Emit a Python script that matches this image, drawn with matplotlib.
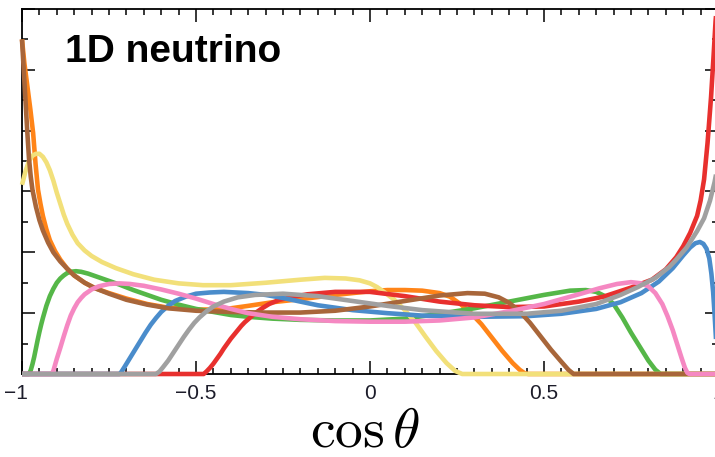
import matplotlib
matplotlib.use("Agg")
import matplotlib.pyplot as plt
from matplotlib.ticker import MultipleLocator, FixedLocator, FixedFormatter
import matplotlib.transforms as mtransforms

# ---------------- data ----------------
orange_x = [-1.0, -0.993, -0.985, -0.976, -0.968, -0.961, -0.954, -0.947, -0.94, -0.93, -0.92, -0.905,
            -0.89, -0.87, -0.85, -0.82, -0.79, -0.75, -0.70, -0.64, -0.58, -0.5, -0.45, -0.4, -0.35,
            -0.28, -0.2, -0.1, 0.0, 0.05, 0.1, 0.15, 0.2, 0.23, 0.26, 0.29, 0.32, 0.35, 0.38, 0.41,
            0.43, 0.445, 0.455, 1.0]
orange_y = [5.5, 5.1, 4.75, 4.35, 3.96, 3.45, 3.03, 2.8, 2.6, 2.38, 2.2, 2.02,
            1.88, 1.73, 1.62, 1.5, 1.41, 1.33, 1.24, 1.15, 1.09, 1.06, 1.06, 1.08, 1.12,
            1.18, 1.23, 1.30, 1.36, 1.38, 1.38, 1.37, 1.33, 1.27, 1.15, 1.0, 0.82, 0.6, 0.38, 0.18,
            0.07, 0.01, 0.0, 0.0]

green_x = [-1.0, -0.98, -0.975, -0.97, -0.965, -0.96, -0.955, -0.95, -0.945, -0.94, -0.93, -0.92,
           -0.91, -0.90, -0.89, -0.88, -0.87, -0.86, -0.845, -0.83, -0.81, -0.79, -0.76, -0.72,
           -0.68, -0.64, -0.6, -0.55, -0.5, -0.45, -0.4, -0.35, -0.28, -0.2, -0.1, 0.0, 0.1, 0.2,
           0.3, 0.4, 0.5, 0.575, 0.62, 0.65, 0.675, 0.70, 0.725, 0.75, 0.775, 0.80, 0.82, 0.835, 1.0]
green_y = [0.0, 0.0, 0.06, 0.16, 0.28, 0.42, 0.56, 0.69, 0.81, 0.92, 1.12, 1.28,
           1.40, 1.50, 1.57, 1.62, 1.66, 1.68, 1.69, 1.68, 1.65, 1.61, 1.55, 1.47,
           1.38, 1.30, 1.22, 1.14, 1.07, 1.02, 0.97, 0.94, 0.91, 0.89, 0.88, 0.88, 0.91, 0.99,
           1.08, 1.19, 1.30, 1.37, 1.38, 1.35, 1.28, 1.15, 0.93, 0.68, 0.45, 0.22, 0.07, 0.0, 0.0]

yellow_x = [-1.0, -0.99, -0.98, -0.97, -0.96, -0.95, -0.94, -0.93, -0.92, -0.91, -0.90, -0.89,
            -0.88, -0.87, -0.855, -0.84, -0.82, -0.80, -0.77, -0.73, -0.68, -0.62, -0.55, -0.48,
            -0.4, -0.3, -0.2, -0.13, -0.07, -0.03, 0.0, 0.02, 0.04, 0.07, 0.10, 0.13, 0.16, 0.19,
            0.22, 0.245, 0.265, 1.0]
yellow_y = [3.11, 3.33, 3.5, 3.59, 3.62, 3.62, 3.57, 3.48, 3.35, 3.18, 2.98, 2.80,
            2.62, 2.47, 2.29, 2.15, 2.03, 1.94, 1.84, 1.74, 1.64, 1.55, 1.49, 1.46,
            1.46, 1.50, 1.55, 1.58, 1.57, 1.54, 1.49, 1.43, 1.35, 1.22, 1.05, 0.85, 0.61, 0.38,
            0.18, 0.05, 0.0, 0.0]

red_x = [-1.0, -0.478, -0.47, -0.46, -0.45, -0.44, -0.43, -0.42, -0.41, -0.40, -0.39, -0.38,
         -0.37, -0.36, -0.35, -0.34, -0.33, -0.31, -0.29, -0.26, -0.22, -0.18, -0.1, 0.0, 0.1,
         0.2, 0.3, 0.4, 0.5, 0.6, 0.67, 0.75, 0.81, 0.85, 0.88, 0.90, 0.92, 0.94, 0.95, 0.96,
         0.97, 0.98, 0.987, 0.993, 0.996]
red_y = [0.0, 0.0, 0.04, 0.10, 0.17, 0.25, 0.33, 0.42, 0.50, 0.58, 0.65, 0.72,
         0.79, 0.85, 0.90, 0.95, 1.0, 1.08, 1.15, 1.22, 1.27, 1.31, 1.35, 1.35, 1.28,
         1.19, 1.13, 1.10, 1.11, 1.19, 1.27, 1.42, 1.55, 1.72, 1.92, 2.10, 2.32, 2.60, 2.85, 3.2,
         3.8, 4.55, 5.2, 5.8, 6.0]

blue_x = [-1.0, -0.72, -0.715, -0.705, -0.69, -0.675, -0.66, -0.645, -0.63, -0.615, -0.60, -0.58,
          -0.56, -0.53, -0.50, -0.46, -0.42, -0.35, -0.3, -0.25, -0.15, -0.05, 0.05, 0.15, 0.3,
          0.45, 0.55, 0.65, 0.72, 0.78, 0.83, 0.87, 0.90, 0.92, 0.935, 0.948, 0.958, 0.967,
          0.975, 0.981, 0.986, 0.99, 0.994, 0.997, 1.0]
blue_y = [0.0, 0.0, 0.03, 0.12, 0.26, 0.40, 0.54, 0.68, 0.81, 0.92, 1.02, 1.12,
          1.20, 1.27, 1.32, 1.34, 1.35, 1.33, 1.30, 1.25, 1.13, 1.05, 1.0, 0.96, 0.94,
          0.95, 0.99, 1.07, 1.18, 1.33, 1.52, 1.74, 1.95, 2.08, 2.15, 2.17, 2.14, 2.06,
          1.90, 1.65, 1.35, 1.0, 0.6, 0.3, 0.0]

brown_x = [-1.0, -0.995, -0.99, -0.985, -0.98, -0.975, -0.97, -0.96, -0.95, -0.94, -0.925, -0.91,
           -0.89, -0.87, -0.85, -0.82, -0.79, -0.75, -0.7, -0.64, -0.58, -0.5, -0.4, -0.3, -0.2,
           -0.1, 0.0, 0.1, 0.2, 0.28, 0.33, 0.37, 0.40, 0.43, 0.46, 0.49, 0.52, 0.55, 0.57, 0.585,
           1.0]
brown_y = [5.5, 5.0, 4.5, 4.0, 3.55, 3.25, 3.03, 2.75, 2.53, 2.36, 2.16, 2.0,
           1.85, 1.73, 1.62, 1.5, 1.41, 1.32, 1.22, 1.14, 1.08, 1.04, 1.02, 1.01, 1.01,
           1.04, 1.11, 1.20, 1.29, 1.33, 1.32, 1.26, 1.17, 1.03, 0.84, 0.62, 0.40, 0.20, 0.07, 0.0,
           0.0]

pink_x = [-1.0, -0.915, -0.91, -0.905, -0.9, -0.89, -0.88, -0.87, -0.86, -0.85, -0.84, -0.83,
          -0.82, -0.80, -0.78, -0.75, -0.72, -0.69, -0.65, -0.6, -0.55, -0.5, -0.45, -0.4, -0.35,
          -0.28, -0.2, -0.1, 0.0, 0.1, 0.2, 0.3, 0.4, 0.5, 0.6, 0.66, 0.71, 0.75, 0.78, 0.80,
          0.82, 0.84, 0.855, 0.87, 0.885, 0.895, 0.905, 0.912, 0.918, 1.0]
pink_y = [0.0, 0.0, 0.05, 0.15, 0.25, 0.43, 0.62, 0.80, 0.96, 1.08, 1.18, 1.25,
          1.31, 1.39, 1.44, 1.48, 1.49, 1.48, 1.45, 1.39, 1.32, 1.24, 1.15, 1.07, 1.0,
          0.94, 0.90, 0.87, 0.86, 0.86, 0.88, 0.93, 1.03, 1.15, 1.31, 1.41, 1.48, 1.51, 1.49, 1.44,
          1.33, 1.15, 0.95, 0.72, 0.45, 0.27, 0.10, 0.02, 0.0, 0.0]

gray_x = [-1.0, -0.615, -0.605, -0.595, -0.58, -0.565, -0.55, -0.535, -0.52, -0.505, -0.49, -0.47,
          -0.45, -0.42, -0.38, -0.33, -0.25, -0.15, -0.05, 0.05, 0.15, 0.3, 0.45, 0.55, 0.65,
          0.72, 0.77, 0.82, 0.86, 0.88, 0.91, 0.94, 0.96, 0.977, 0.99, 1.0]
gray_y = [0.0, 0.0, 0.04, 0.11, 0.22, 0.35, 0.48, 0.61, 0.73, 0.84, 0.93, 1.03,
          1.11, 1.19, 1.26, 1.30, 1.32, 1.28, 1.20, 1.12, 1.05, 0.99, 0.99, 1.04, 1.15,
          1.30, 1.43, 1.58, 1.76, 1.88, 2.08, 2.35, 2.56, 2.85, 3.15, 3.45]

x_tick_values = [-1.0, -0.5, 0.0, 0.5, 1.0]
x_tick_labels = ["\u22121", "\u22120.5", "0", "0.5", "1"]
title_text = "1D neutrino"
xlabel_text = r"$\cos\theta$"

# ---------------- figure ----------------
W, H = 715, 457
fig = plt.figure(figsize=(W / 100, H / 100), dpi=100)
ax = fig.add_axes([22 / W, 83 / H, 696 / W, 365 / H])

series = [
    (orange_x, orange_y, "#ff8418"),
    (green_x, green_y, "#55b748"),
    (yellow_x, yellow_y, "#f2e07a"),
    (red_x, red_y, "#e8302e"),
    (blue_x, blue_y, "#4a8ccb"),
    (brown_x, brown_y, "#a8663a"),
    (pink_x, pink_y, "#f588c2"),
    (gray_x, gray_y, "#a0a0a0"),
]
for i, (xs, ys, c) in enumerate(series):
    ax.plot(xs, ys, color=c, lw=3.3, solid_joinstyle="round", solid_capstyle="butt",
            clip_on=False, zorder=3 + i)

ax.set_xlim(-1, 1)
ax.set_ylim(0, 6)

for s in ax.spines.values():
    s.set_linewidth(1.3)
    s.set_zorder(2)

ax.xaxis.set_major_locator(FixedLocator(x_tick_values))
ax.xaxis.set_major_formatter(FixedFormatter(x_tick_labels))
ax.xaxis.set_minor_locator(MultipleLocator(0.05))
ax.yaxis.set_major_locator(MultipleLocator(1))
ax.yaxis.set_minor_locator(MultipleLocator(0.5))
ax.tick_params(which="both", direction="in", top=True, right=True, width=1.1, color="black")
ax.tick_params(which="major", length=9.5)
ax.tick_params(which="minor", length=4.5)
ax.tick_params(axis="y", labelleft=False)
ax.tick_params(axis="x", pad=7.5, labelsize=15, labelcolor="#1c1c2a")
for lab in ax.get_xticklabels():
    lab.set_fontfamily("Liberation Sans")

# shift the clipped "-1" label like in the reference
lbls = ax.get_xticklabels()
offset = mtransforms.ScaledTranslation(-6 / 100, 0, fig.dpi_scale_trans)
lbls[0].set_transform(lbls[0].get_transform() + offset)

ax.text((65 - 22) / 696, 1 - (62 - 9) / 365, title_text, transform=ax.transAxes,
        fontsize=28, fontweight="bold", family="Liberation Sans", va="baseline", ha="left")

plt.rcParams["mathtext.fontset"] = "cm"
fig.text(365 / W, 1 - 447 / H, xlabel_text, fontsize=40, ha="center", va="baseline")

fig.savefig("out.png", dpi=100)
